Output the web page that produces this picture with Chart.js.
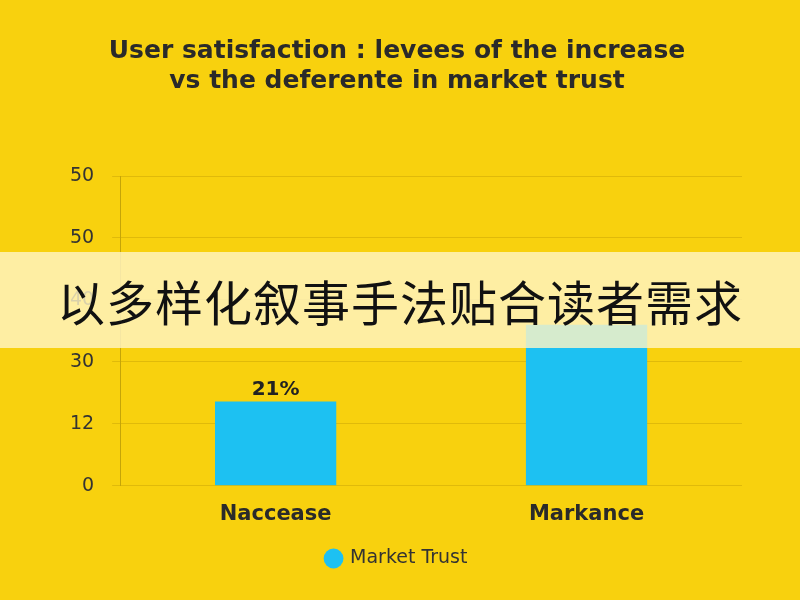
<!DOCTYPE html>
<html><head><meta charset="utf-8">
<script src="https://cdn.jsdelivr.net/npm/chart.js@4"></script>
<style>
html,body{margin:0;padding:0;background:#F8D10E;}
#wrap{position:relative;width:800px;height:600px;}
#banner{position:absolute;left:0;top:252px;width:800px;height:96px;background:rgba(255,244,196,0.82);display:flex;align-items:center;justify-content:center;font-family:"Noto Sans CJK SC";font-size:48px;color:#111;letter-spacing:1px;}
</style></head><body>
<div id="wrap"><canvas id="c" width="800" height="600"></canvas><div id="banner">以多样化叙事手法贴合读者需求</div></div>
<script>
const categories=["Naccease","Markance"];
const trustValues=[13.6,26];
const barLabels=["21%",""];
const tickLabels=["0","12","30","40","50","50"];
const titleLines=["User satisfaction : levees of the increase","vs the deferente in market trust"];
const labelPlugin={id:'lbl',afterDatasetsDraw(ch){const m=ch.getDatasetMeta(0);const x=ch.ctx;x.save();x.font='bold 20px "DejaVu Sans"';x.fillStyle='#222';x.textAlign='center';m.data.forEach((b,i)=>{if(barLabels[i])x.fillText(barLabels[i],b.x,b.y-12);});x.restore();}};
new Chart(document.getElementById('c'),{type:'bar',
data:{labels:categories,datasets:[{label:'Market Trust',data:trustValues,backgroundColor:'#1DC1F2',categoryPercentage:0.78,barPercentage:0.5}]},
options:{responsive:false,animation:false,
layout:{padding:{left:52,right:58,top:0,bottom:22}},
plugins:{title:{display:true,text:titleLines,color:'#2a2a2a',font:{family:'DejaVu Sans',size:25,weight:'bold'},padding:{top:36,bottom:80},lineHeight:1.3},
legend:{position:'bottom',labels:{usePointStyle:true,pointStyle:'circle',boxWidth:14,boxHeight:14,color:'#333',font:{family:'DejaVu Sans',size:19},padding:14}},tooltip:{enabled:false}},
scales:{x:{grid:{display:false},border:{display:false},ticks:{color:'#2a2a2a',font:{family:'DejaVu Sans',size:21,weight:'bold'},padding:8}},
y:{min:0,max:50,ticks:{stepSize:10,color:'#333',font:{family:'DejaVu Sans',size:19},padding:18,callback:(v,i)=>tickLabels[i]},grid:{color:'rgba(150,120,0,0.25)'},border:{display:true,color:'rgba(120,100,0,0.4)'}}}},
plugins:[labelPlugin]});
</script></body></html>
